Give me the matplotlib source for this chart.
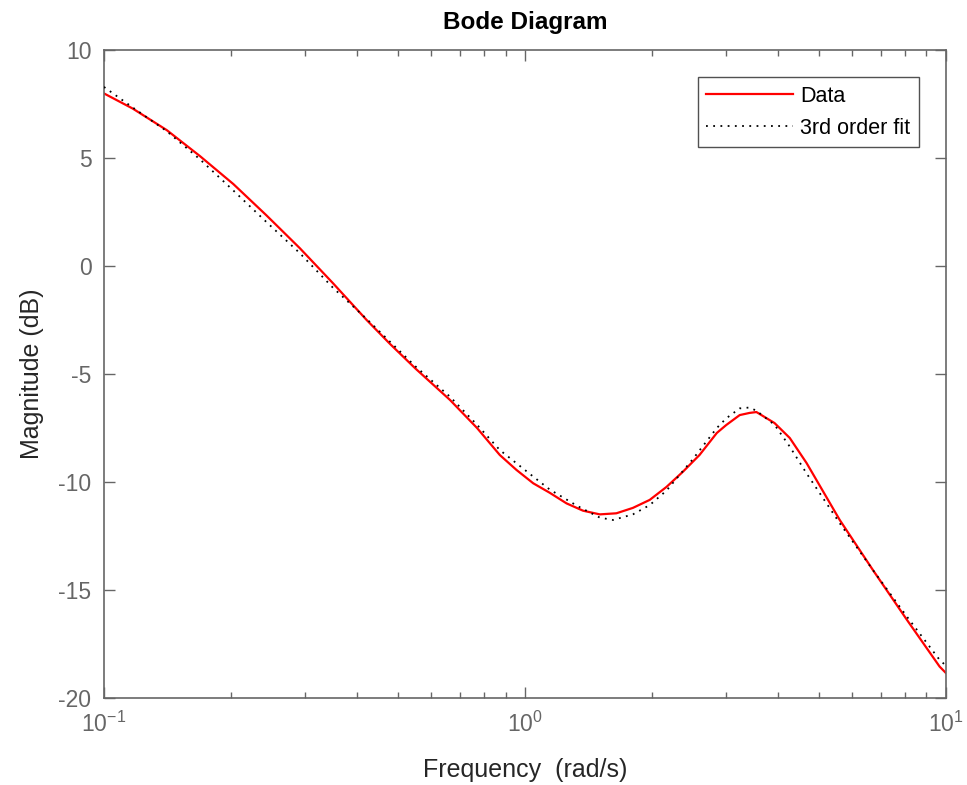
import numpy as np
import matplotlib
matplotlib.use("Agg")
import matplotlib.pyplot as plt
from matplotlib.ticker import LogLocator, NullLocator

# --- data ---
freq_data = [0.1, 0.117, 0.141, 0.169, 0.203, 0.243, 0.292, 0.350, 0.421, 0.478,
             0.55, 0.664, 0.77, 0.872, 0.955, 1.047, 1.146, 1.256, 1.375, 1.507,
             1.65, 1.806, 1.98, 2.17, 2.376, 2.6, 2.858, 3.01, 3.24, 3.42, 3.55,
             3.92, 4.26, 4.67, 5.6, 6.71, 8.09, 9.67, 10.0]
mag_data = [8.0, 7.3, 6.3, 5.1, 3.8, 2.36, 0.83, -0.79, -2.5, -3.6,
            -4.75, -6.2, -7.5, -8.75, -9.44, -10.06, -10.5, -10.99, -11.33, -11.5,
            -11.45, -11.2, -10.83, -10.23, -9.52, -8.75, -7.73, -7.36, -6.9, -6.8, -6.76,
            -7.27, -7.96, -9.12, -11.76, -14.07, -16.39, -18.55, -18.84]

freq_fit = [0.1, 0.117, 0.141, 0.169, 0.203, 0.243, 0.292, 0.350, 0.421, 0.478,
            0.55, 0.664, 0.77, 0.872, 1.047, 1.146, 1.33, 1.507, 1.62, 1.806,
            1.98, 2.17, 2.505, 2.858, 3.01, 3.24, 3.42, 3.55, 3.92, 4.26, 4.67,
            5.6, 6.71, 8.09, 9.67, 10.0]
mag_fit = [8.3, 7.35, 6.25, 4.95, 3.5, 2.05, 0.6, -1.0, -2.45, -3.5,
           -4.65, -6.05, -7.35, -8.52, -9.75, -10.35, -11.1, -11.65, -11.76, -11.5,
           -11.07, -10.4, -8.95, -7.5, -7.05, -6.59, -6.55, -6.7, -7.35, -8.36, -9.6,
           -11.91, -14.07, -16.24, -18.24, -18.5]

labels = ["Data", "3rd order fit"]

plt.rcParams['font.family'] = ['Liberation Sans', 'DejaVu Sans']
plt.rcParams['mathtext.default'] = 'regular'
plt.rcParams['axes.unicode_minus'] = False

fig = plt.figure(figsize=(9.67, 7.85), dpi=100)
ax = fig.add_axes([0.1075, 0.111, 0.8705, 0.825])

gray = '#666666'
ax.semilogx(freq_data, mag_data, color='#ff0000', linewidth=1.6, label=labels[0], zorder=2)
ax.semilogx(freq_fit, mag_fit, color='black', linewidth=1.3, linestyle=(0, (1, 3)),
            label=labels[1], zorder=3)

ax.set_xlim(0.1, 10)
ax.set_ylim(-20, 10)
ax.set_yticks(np.arange(-20, 11, 5))
ax.yaxis.set_minor_locator(NullLocator())
ax.xaxis.set_major_locator(LogLocator(base=10))
ax.xaxis.set_minor_locator(LogLocator(base=10, subs=np.arange(2, 10)))

ax.tick_params(which='both', direction='in', top=True, right=True, colors=gray,
               labelsize=16.5, width=1)
ax.tick_params(which='major', length=8)
ax.tick_params(axis='x', which='major', pad=10)
ax.tick_params(axis='y', which='major', pad=9)
ax.tick_params(which='minor', length=4.5)
for s in ax.spines.values():
    s.set_color(gray)
    s.set_linewidth(1.2)

ax.set_xlabel('Frequency  (rad/s)', fontsize=18, color='#262626', labelpad=15)
ax.set_ylabel('Magnitude (dB)', fontsize=18, color='#262626', labelpad=10)
ax.set_title('Bode Diagram', fontsize=17.5, fontweight='bold', color='black', pad=15)

leg = ax.legend(loc='upper right', fontsize=15.5, frameon=True, fancybox=False,
                edgecolor='#262626', handlelength=4.0, borderaxespad=1.25,
                borderpad=0.4, labelspacing=0.5, handletextpad=0.35)
leg.get_frame().set_linewidth(1.0)

plt.savefig('out.png', dpi=100)
